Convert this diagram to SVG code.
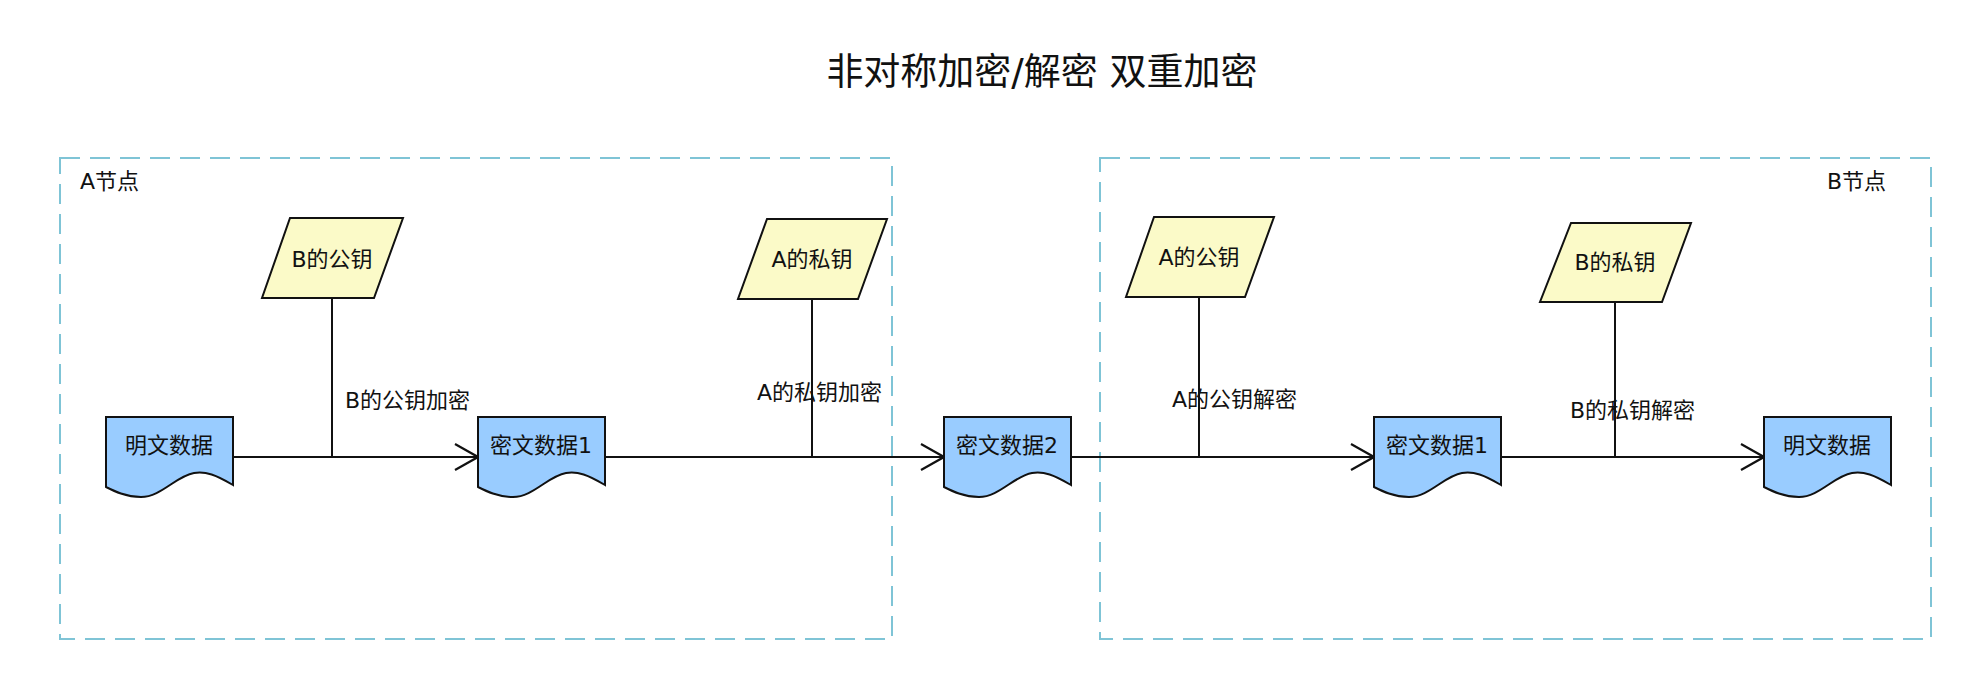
<svg xmlns="http://www.w3.org/2000/svg" width="1976" height="678" viewBox="0 0 1976 678">
<style>
.frame{fill:none;stroke:#7fc4d6;stroke-width:2;stroke-dasharray:20 10}
.doc{fill:#99ccff;stroke:#111;stroke-width:2}
.key{fill:#fbfac8;stroke:#111;stroke-width:2}
.t{font-family:"DejaVu Sans","Noto Sans CJK SC",sans-serif;font-size:22px;fill:#111}
.c{text-anchor:middle}
.title{font-family:"DejaVu Sans","Noto Sans CJK SC",sans-serif;font-size:37px;fill:#111;text-anchor:middle}
.line{fill:none;stroke:#111;stroke-width:2}
</style>
<defs>
<marker id="arr" markerUnits="userSpaceOnUse" viewBox="0 0 26 28" refX="24" refY="14" markerWidth="26" markerHeight="28" orient="auto">
<path d="M1,1 L24,14 L1,27" fill="none" stroke="#111" stroke-width="2.2"/>
</marker>
<path id="docShape" d="M0,0 H127 V68 C110,58 100,54 88,56 C70,59 55,80 35,80 C20,80 8,74 0,70 Z"/>
</defs>
<rect width="1976" height="678" fill="#fff"/>
<text class="title" x="1042" y="85">非对称加密/解密 双重加密</text>

<g id="nodeA-frame">
<rect class="frame" x="60" y="158" width="832" height="481"/>
<text class="t" x="80" y="189">A节点</text>
</g>
<g id="nodeB-frame">
<rect class="frame" x="1100" y="158" width="831" height="481"/>
<text class="t" x="1886" y="189" text-anchor="end">B节点</text>
</g>

<g id="connectors">
<path class="line" d="M233,457 H478" marker-end="url(#arr)"/>
<path class="line" d="M332,298 V457"/>
<path class="line" d="M605,457 H944" marker-end="url(#arr)"/>
<path class="line" d="M812,299 V457"/>
<path class="line" d="M1070,457 H1374" marker-end="url(#arr)"/>
<path class="line" d="M1199,297 V457"/>
<path class="line" d="M1501,457 H1764" marker-end="url(#arr)"/>
<path class="line" d="M1615,302 V457"/>
<text class="t" x="345" y="408">B的公钥加密</text>
<text class="t" x="757" y="400">A的私钥加密</text>
<text class="t" x="1172" y="407">A的公钥解密</text>
<text class="t" x="1570" y="418">B的私钥解密</text>
</g>

<g id="pubB">
<polygon class="key" points="290,218 403,218 374,298 262,298"/>
<text class="t c" x="332" y="267">B的公钥</text>
</g>
<g id="privA">
<polygon class="key" points="767,219 887,219 858,299 738,299"/>
<text class="t c" x="812" y="267">A的私钥</text>
</g>
<g id="pubA">
<polygon class="key" points="1154,217 1274,217 1245,297 1126,297"/>
<text class="t c" x="1199" y="265">A的公钥</text>
</g>
<g id="privB">
<polygon class="key" points="1571,223 1691,223 1662,302 1540,302"/>
<text class="t c" x="1615" y="270">B的私钥</text>
</g>

<g id="plainA">
<use href="#docShape" class="doc" x="106" y="417"/>
<text class="t c" x="169" y="453">明文数据</text>
</g>
<g id="cipher1A">
<use href="#docShape" class="doc" x="478" y="417"/>
<text class="t c" x="541" y="453">密文数据1</text>
</g>
<g id="cipher2">
<use href="#docShape" class="doc" x="944" y="417"/>
<text class="t c" x="1007" y="453">密文数据2</text>
</g>
<g id="cipher1B">
<use href="#docShape" class="doc" x="1374" y="417"/>
<text class="t c" x="1437" y="453">密文数据1</text>
</g>
<g id="plainB">
<use href="#docShape" class="doc" x="1764" y="417"/>
<text class="t c" x="1827" y="453">明文数据</text>
</g>
</svg>
